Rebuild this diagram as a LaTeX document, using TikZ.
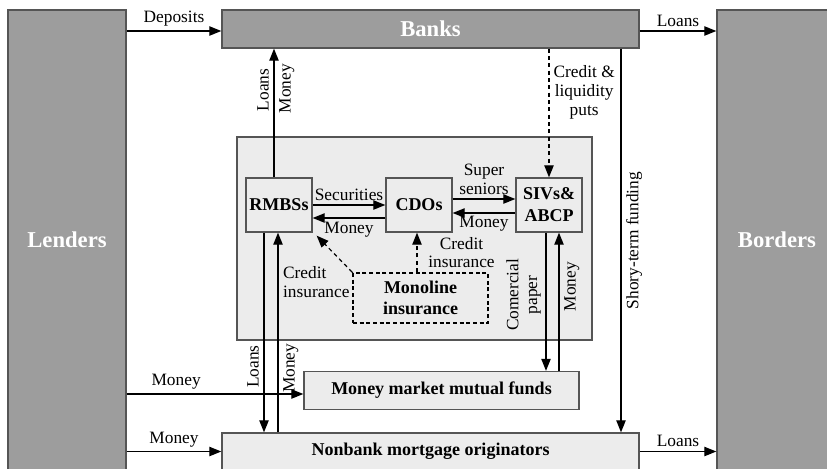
\documentclass[tikz,border=0pt]{standalone}
\usepackage{fontspec}
\setmainfont{Liberation Serif}
\usetikzlibrary{arrows.meta,calc}
\definecolor{boxgray}{HTML}{9D9D9D}
\definecolor{edgegray}{HTML}{555555}
\definecolor{lightfill}{HTML}{ECECEC}
\begin{document}
\begin{tikzpicture}[x=0.75pt,y=-0.75pt,
  font=\fontsize{13}{14}\selectfont,
  sz/.style 2 args={minimum width=#1*0.75pt, minimum height=#2*0.75pt},
  bigbox/.style={draw=edgegray, fill=boxgray, line width=1pt, text=white,
    font=\fontsize{17}{20}\selectfont\bfseries, inner sep=0pt},
  litebox/.style={draw=edgegray, fill=lightfill, line width=1pt,
    font=\fontsize{13.5}{16.5}\selectfont\bfseries, inner sep=0pt, align=center},
  monobox/.style={draw=black, fill=lightfill, line width=1.3pt, dash pattern=on 3pt off 2pt,
    font=\fontsize{13.5}{16}\selectfont\bfseries, inner sep=0pt, align=center},
  conn/.style={line width=0.9pt, -{Triangle[length=9pt,width=7pt]}},
  dconn/.style={conn, dash pattern=on 3pt off 2.5pt},
  lbl/.style={inner sep=3pt, align=center},
  vlbl/.style={inner sep=3.5pt, align=center, rotate=90},
]
\useasboundingbox (0,0) rectangle (827,468);

% big boxes
\node[bigbox, sz={118}{460}] (lenders) at (67,240) {Lenders};
\node[bigbox, sz={120}{460}] (borders) at (777,240) {Borders};
\node[bigbox, sz={417}{38}] (banks) at (430.5,29) {Banks};

% panel and inner boxes
\node[litebox, sz={355}{203}] (panel) at (414.5,238.5) {};
\node[litebox, sz={66}{54}] (rmbs) at (279,205) {RMBSs};
\node[litebox, sz={66}{54}] (cdo) at (419,205) {CDOs};
\node[litebox, sz={66}{54}] (siv) at (549,205) {SIVs\&\\ABCP};
\node[monobox, sz={135}{50}] (mono) at (420.5,298) {Monoline\\insurance};
\node[litebox, sz={275}{38}] (mmmf) at (441.5,390.5) {Money market mutual funds};
\node[litebox, sz={417}{37}] (nonbank) at (430.5,451.5) {Nonbank mortgage originators};

% helper coordinates
\coordinate (dep) at ($(banks.west)+(0,2)$);
\coordinate (c1) at (274,0);
\coordinate (c2) at (621,0);
\coordinate (c3) at (417,0);
\coordinate (c4) at (546,0);
\coordinate (c5) at (559,0);
\coordinate (c6) at (264,0);
\coordinate (c7) at (278,0);
\coordinate (c8) at (0,394);

% top row
\draw[conn] (lenders.east |- dep) -- node[lbl,above]{Deposits} (dep);
\draw[conn] (banks.east |- dep) -- node[lbl,above]{Loans} (borders.west |- dep);

% RMBSs to banks
\draw[conn] (c1 |- rmbs.north) --
  node[vlbl,pos=0.68,anchor=south]{Loans}
  node[vlbl,pos=0.69,anchor=north]{Money} (c1 |- banks.south);

% credit & liquidity puts
\draw[dconn] (siv.north |- banks.south) -- node[lbl,pos=0.34,anchor=west]{Credit \&\\liquidity\\puts} (siv.north);

% short-term funding
\draw[conn] (c2 |- banks.south) -- node[vlbl,pos=0.5,anchor=north]{Shory-term funding} (c2 |- nonbank.north);

% inside panel
\draw[conn] (rmbs.east) -- node[lbl,above]{Securities} (cdo.west);
\draw[conn] ($(cdo.west)+(0,13)$) -- node[lbl,below]{Money} ($(rmbs.east)+(0,13)$);
\draw[conn] ($(cdo.east)+(0,-6)$) -- node[lbl,above]{Super\\seniors} ($(siv.west)+(0,-6)$);
\draw[conn] ($(siv.west)+(0,8)$) -- node[lbl,below,inner sep=2pt]{Money} ($(cdo.east)+(0,8)$);

\draw[dconn] (mono.north west)
  node[inner sep=0pt,align=left,anchor=north east,xshift=-1.5pt,yshift=4.5pt]{Credit\\insurance}
  -- ($(rmbs.south east)+(4,3)$);
\draw[dconn] (c3 |- mono.north) -- node[lbl,pos=0.5,anchor=west,xshift=5pt]{Credit\\insurance} (c3 |- cdo.south);

\draw[conn] (c4 |- siv.south) -- node[vlbl,pos=0.45,anchor=south]{Comercial\\paper} (c4 |- mmmf.north);
\draw[conn] (c5 |- mmmf.north) -- node[vlbl,pos=0.61,anchor=north]{Money} (c5 |- siv.south);

% RMBSs to nonbank
\draw[conn] (c6 |- rmbs.south) -- node[vlbl,pos=0.67,anchor=south]{Loans} (c6 |- nonbank.north);
\draw[conn] (c7 |- nonbank.north) -- node[vlbl,pos=0.32,anchor=north]{Money} (c7 |- rmbs.south);

% lenders to funds and originators
\draw[conn] (lenders.east |- c8) -- node[lbl,pos=0.28,above]{Money} (mmmf.west |- c8);
\draw[conn] (lenders.east |- nonbank.west) -- node[lbl,above]{Money} (nonbank.west);
\draw[conn] (nonbank.east) -- node[lbl,above]{Loans} (borders.west |- nonbank.east);
\end{tikzpicture}
\end{document}
